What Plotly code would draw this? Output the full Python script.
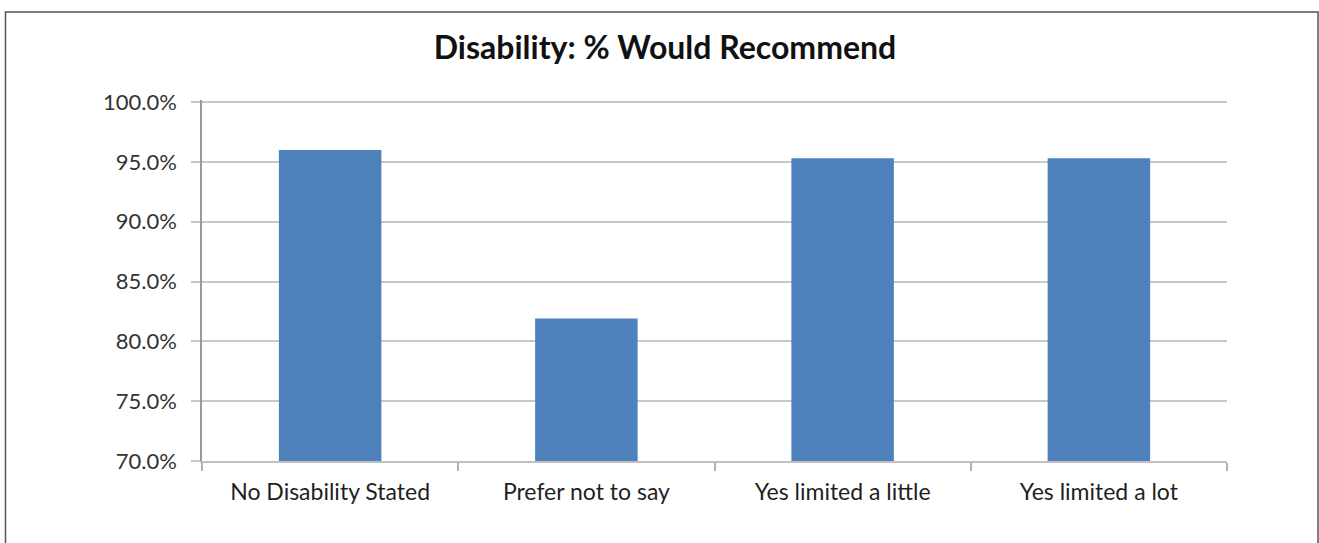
import plotly.graph_objects as go

categories = ["No Disability Stated", "Prefer not to say", "Yes limited a little", "Yes limited a lot"]
values = [96.0, 81.9, 95.3, 95.3]
y_ticks = [70, 75, 80, 85, 90, 95, 100]
y_tick_labels = ["70.0%", "75.0%", "80.0%", "85.0%", "90.0%", "95.0%", "100.0%"]

W, H = 1319, 543
L, R, T, B = 202, 1227, 100, 461

fig = go.Figure(go.Bar(x=categories, y=values, marker=dict(color="#4F81BD", line=dict(width=0))))

def px(x):
    return (x - L) / (R - L)

def py(y):
    return (B - y) / (B - T)

fig.update_layout(
    width=W, height=H,
    margin=dict(l=L, r=W - R, t=T, b=H - B),
    paper_bgcolor="white", plot_bgcolor="white",
    bargap=0.6,
    showlegend=False,
    font=dict(family="Lato, Open Sans, sans-serif", color="#333333"),
    title=dict(text="<b>Disability: % Would Recommend</b>", x=665 / W, xanchor="center",
               y=1 - 48 / H, yanchor="middle", font=dict(size=32, color="#111111")),
    shapes=[dict(type="rect", xref="paper", yref="paper", x0=px(5.5), x1=px(1318), y0=py(600), y1=py(12),
                 line=dict(color="#555555", width=1.5), fillcolor="rgba(0,0,0,0)", layer="above")],
)
fig.update_yaxes(range=[70, 100.17], tickvals=y_ticks, ticktext=y_tick_labels,
                 showgrid=True, gridcolor="#C8C8C8", gridwidth=1.5,
                 showline=True, linecolor="#9A9A9A", linewidth=1.5,
                 ticks="outside", ticklen=9, tickcolor="#C8C8C8", tickwidth=1.5,
                 ticklabelstandoff=10, tickfont=dict(size=22, color="#333333"), zeroline=False)
fig.update_xaxes(showline=True, linecolor="#C0C0C0", linewidth=1.5,
                 ticks="outside", tickson="boundaries", ticklen=8, tickcolor="#B0B0B0", tickwidth=1.5,
                 tickfont=dict(size=23, color="#1f1f1f"), ticklabelstandoff=10)

fig.write_html("out.html")
